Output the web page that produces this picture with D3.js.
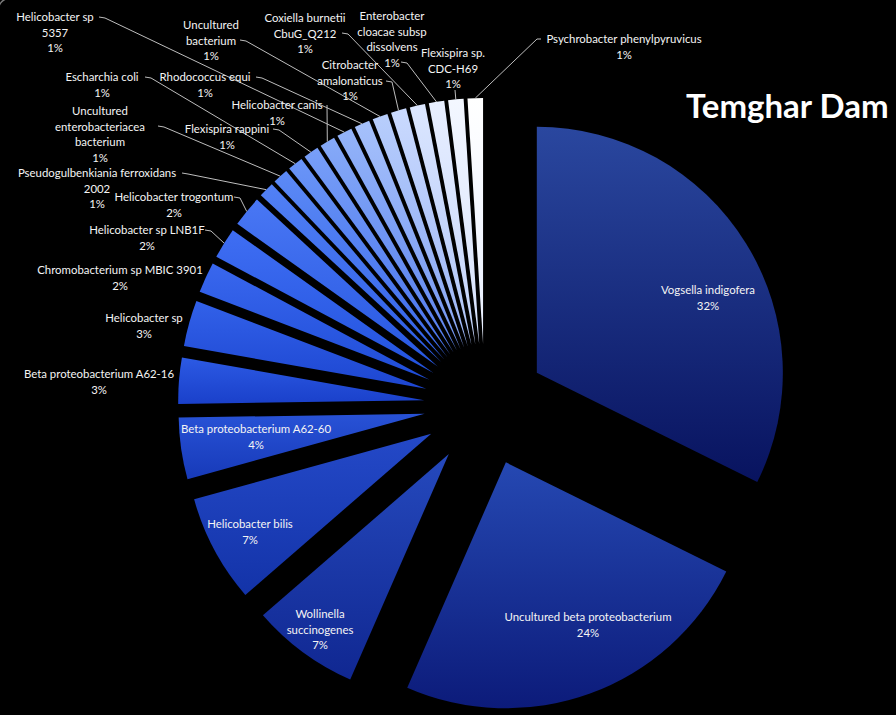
<!DOCTYPE html>
<html>
<head>
<meta charset="utf-8">
<script src="https://cdn.jsdelivr.net/npm/d3@7"></script>
<style>
  html, body { margin: 0; padding: 0; background: #000; }
  svg { display: block; }
  .lbl { font-family: Lato, "Open Sans", sans-serif; font-size: 11.4px; fill: #f4f4f4; }
  .title { font-family: Lato, "Open Sans", sans-serif; font-weight: 700; font-size: 33px; fill: #ffffff; }
</style>
</head>
<body>
<script>
// Bacterial community composition, Temghar Dam (share of clones, %)
const species = [
  "Vogsella indigofera",
  "Uncultured beta proteobacterium",
  "Wollinella succinogenes",
  "Helicobacter bilis",
  "Beta proteobacterium A62-60",
  "Beta proteobacterium A62-16",
  "Helicobacter sp",
  "Chromobacterium sp MBIC 3901",
  "Helicobacter sp LNB1F",
  "Helicobacter trogontum",
  "Pseudogulbenkiania ferroxidans 2002",
  "Uncultured enterobacteriacea bacterium",
  "Escharchia coli",
  "Flexispira rappini",
  "Helicobacter canis",
  "Helicobacter sp 5357",
  "Rhodococcus equi",
  "Uncultured bacterium",
  "Citrobacter amalonaticus",
  "Coxiella burnetii CbuG_Q212",
  "Enterobacter cloacae subsp dissolvens",
  "Flexispira sp. CDC-H69",
  "Psychrobacter phenylpyruvicus"
];
const shares = [32, 24, 7, 7, 4, 3, 3, 2, 2, 2, 1, 1, 1, 1, 1, 1, 1, 1, 1, 1, 1, 1, 1];

// How each name is wrapped in its label
const nameLines = [
  ["Vogsella indigofera"],
  ["Uncultured beta proteobacterium"],
  ["Wollinella", "succinogenes"],
  ["Helicobacter bilis"],
  ["Beta proteobacterium A62-60"],
  ["Beta proteobacterium A62-16"],
  ["Helicobacter sp"],
  ["Chromobacterium sp MBIC 3901"],
  ["Helicobacter sp LNB1F"],
  ["Helicobacter trogontum"],
  ["Pseudogulbenkiania ferroxidans", "2002"],
  ["Uncultured", "enterobacteriacea", "bacterium"],
  ["Escharchia coli"],
  ["Flexispira rappini"],
  ["Helicobacter canis"],
  ["Helicobacter sp", "5357"],
  ["Rhodococcus equi"],
  ["Uncultured", "bacterium"],
  ["Citrobacter", "amalonaticus"],
  ["Coxiella burnetii", "CbuG_Q212"],
  ["Enterobacter", "cloacae subsp", "dissolvens"],
  ["Flexispira sp.", "CDC-H69"],
  ["Psychrobacter phenylpyruvicus"]
];

const chartTitle = "Temghar Dam";

// ---- layout ----
const W = 896, H = 715;
const cx = 485, cy = 405;     // pie centre
const R = 246;                // slice radius
const EXPLODE = 61;           // every slice pulled out along its bisector
const LINE_H = 15.5;

// label placement: centre x, first line y, leader start (or null), leader style
const labelPos = [
  { x: 708, y: 289 },
  { x: 588, y: 616 },
  { x: 320, y: 613 },
  { x: 250, y: 523 },
  { x: 256, y: 428 },
  { x: 99,  y: 373 },
  { x: 144, y: 317 },
  { x: 120, y: 269 },
  { x: 147, y: 229, lead: [205, 230] },
  { x: 174, y: 196, lead: [234, 197] },
  { x: 97,  y: 172, lead: [182, 173] },
  { x: 100, y: 110, lead: [158, 126] },
  { x: 102, y: 76,  lead: [145, 77] },
  { x: 227, y: 128, lead: [273, 129] },
  { x: 277, y: 104, lead: [327, 105], vertical: true },
  { x: 55,  y: 16,  lead: [99, 17] },
  { x: 205, y: 76,  lead: [256, 77] },
  { x: 211, y: 24,  lead: [240, 40] },
  { x: 350, y: 64,  lead: [386, 81] },
  { x: 305, y: 17,  lead: [342, 33] },
  { x: 392, y: 15,  lead: [401, 62] },
  { x: 453, y: 52,  lead: [455, 90], vertical: true },
  { x: 624, y: 38,  lead: [541, 39], leftSide: true }
];

// per-slice shading, navy for the first slices through bright blue to white
const shadeDomain = [0, 1, 3, 5, 8, 11, 15, 19, 22];
const topShade = d3.scaleLinear().domain(shadeDomain)
  .range(["#2a479f", "#2548b2", "#2449c8", "#2c5ae4", "#3f6ef3", "#5c8af6", "#94b4f9", "#dce7ff", "#ffffff"]);
const bottomShade = d3.scaleLinear().domain(shadeDomain)
  .range(["#08135f", "#0c1b7a", "#1333a8", "#1a40ca", "#2252de", "#3060e8", "#5d84ef", "#adc3f7", "#e8efff"]);

const svg = d3.select("body").append("svg")
  .attr("width", W).attr("height", H)
  .attr("viewBox", `0 0 ${W} ${H}`);

svg.append("rect").attr("width", W).attr("height", H).attr("fill", "#000");
// rounded frame corner of the chart area
svg.append("rect")
  .attr("x", -1.5).attr("y", -1.5).attr("width", W + 20).attr("height", H + 20)
  .attr("rx", 11).attr("fill", "none").attr("stroke", "#7a7a7a").attr("stroke-width", 1.4);

const rows = species.map((name, i) => ({ name, value: shares[i], i }));

const pie = d3.pie().sort(null).value(d => d.value);
const arcs = pie(rows);
const arcGen = d3.arc().innerRadius(0).outerRadius(R);

const dir = a => [Math.sin(a), -Math.cos(a)];

const defs = svg.append("defs");
arcs.forEach((a, i) => {
  const g = defs.append("linearGradient")
    .attr("id", "shade" + i)
    .attr("x1", 0).attr("y1", 0).attr("x2", 0).attr("y2", 1);
  g.append("stop").attr("offset", "0%").attr("stop-color", topShade(i));
  g.append("stop").attr("offset", "100%").attr("stop-color", bottomShade(i));
});

const pieG = svg.append("g").attr("transform", `translate(${cx},${cy})`);

pieG.selectAll("path.slice")
  .data(arcs)
  .join("path")
  .attr("class", "slice")
  .attr("d", arcGen)
  .attr("transform", a => {
    const m = (a.startAngle + a.endAngle) / 2;
    const [dx, dy] = dir(m);
    return `translate(${dx * EXPLODE},${dy * EXPLODE})`;
  })
  .attr("fill", (a, i) => `url(#shade${i})`);

// leader lines
const leaderG = svg.append("g")
  .attr("fill", "none").attr("stroke", "#bdbdbd").attr("stroke-width", 1);

arcs.forEach((a, i) => {
  const p = labelPos[i];
  if (!p.lead) return;
  const m = (a.startAngle + a.endAngle) / 2;
  const [ux, uy] = dir(m);
  const end = [cx + ux * (EXPLODE + R), cy + uy * (EXPLODE + R)];
  const [sx, sy] = p.lead;
  let pts;
  if (p.vertical) {
    pts = [[sx, sy], [end[0], end[1]]];
  } else if (p.leftSide) {
    pts = [[sx, sy], [sx - 4, sy], end];
  } else {
    pts = [[sx, sy], [sx + 6, sy + 1], end];
  }
  leaderG.append("path").attr("d", d3.line()(pts));
});

// data labels
const labelG = svg.append("g");
arcs.forEach((a, i) => {
  const p = labelPos[i];
  const lines = nameLines[i].concat([Math.round(a.data.value) + "%"]);
  const t = labelG.append("text")
    .attr("class", "lbl")
    .attr("text-anchor", "middle")
    .attr("dominant-baseline", "central");
  lines.forEach((ln, k) => {
    t.append("tspan").attr("x", p.x).attr("y", p.y + k * LINE_H).text(ln);
  });
});

// chart title
svg.append("text")
  .attr("class", "title")
  .attr("x", 686).attr("y", 118)
  .text(chartTitle);
</script>
</body>
</html>
